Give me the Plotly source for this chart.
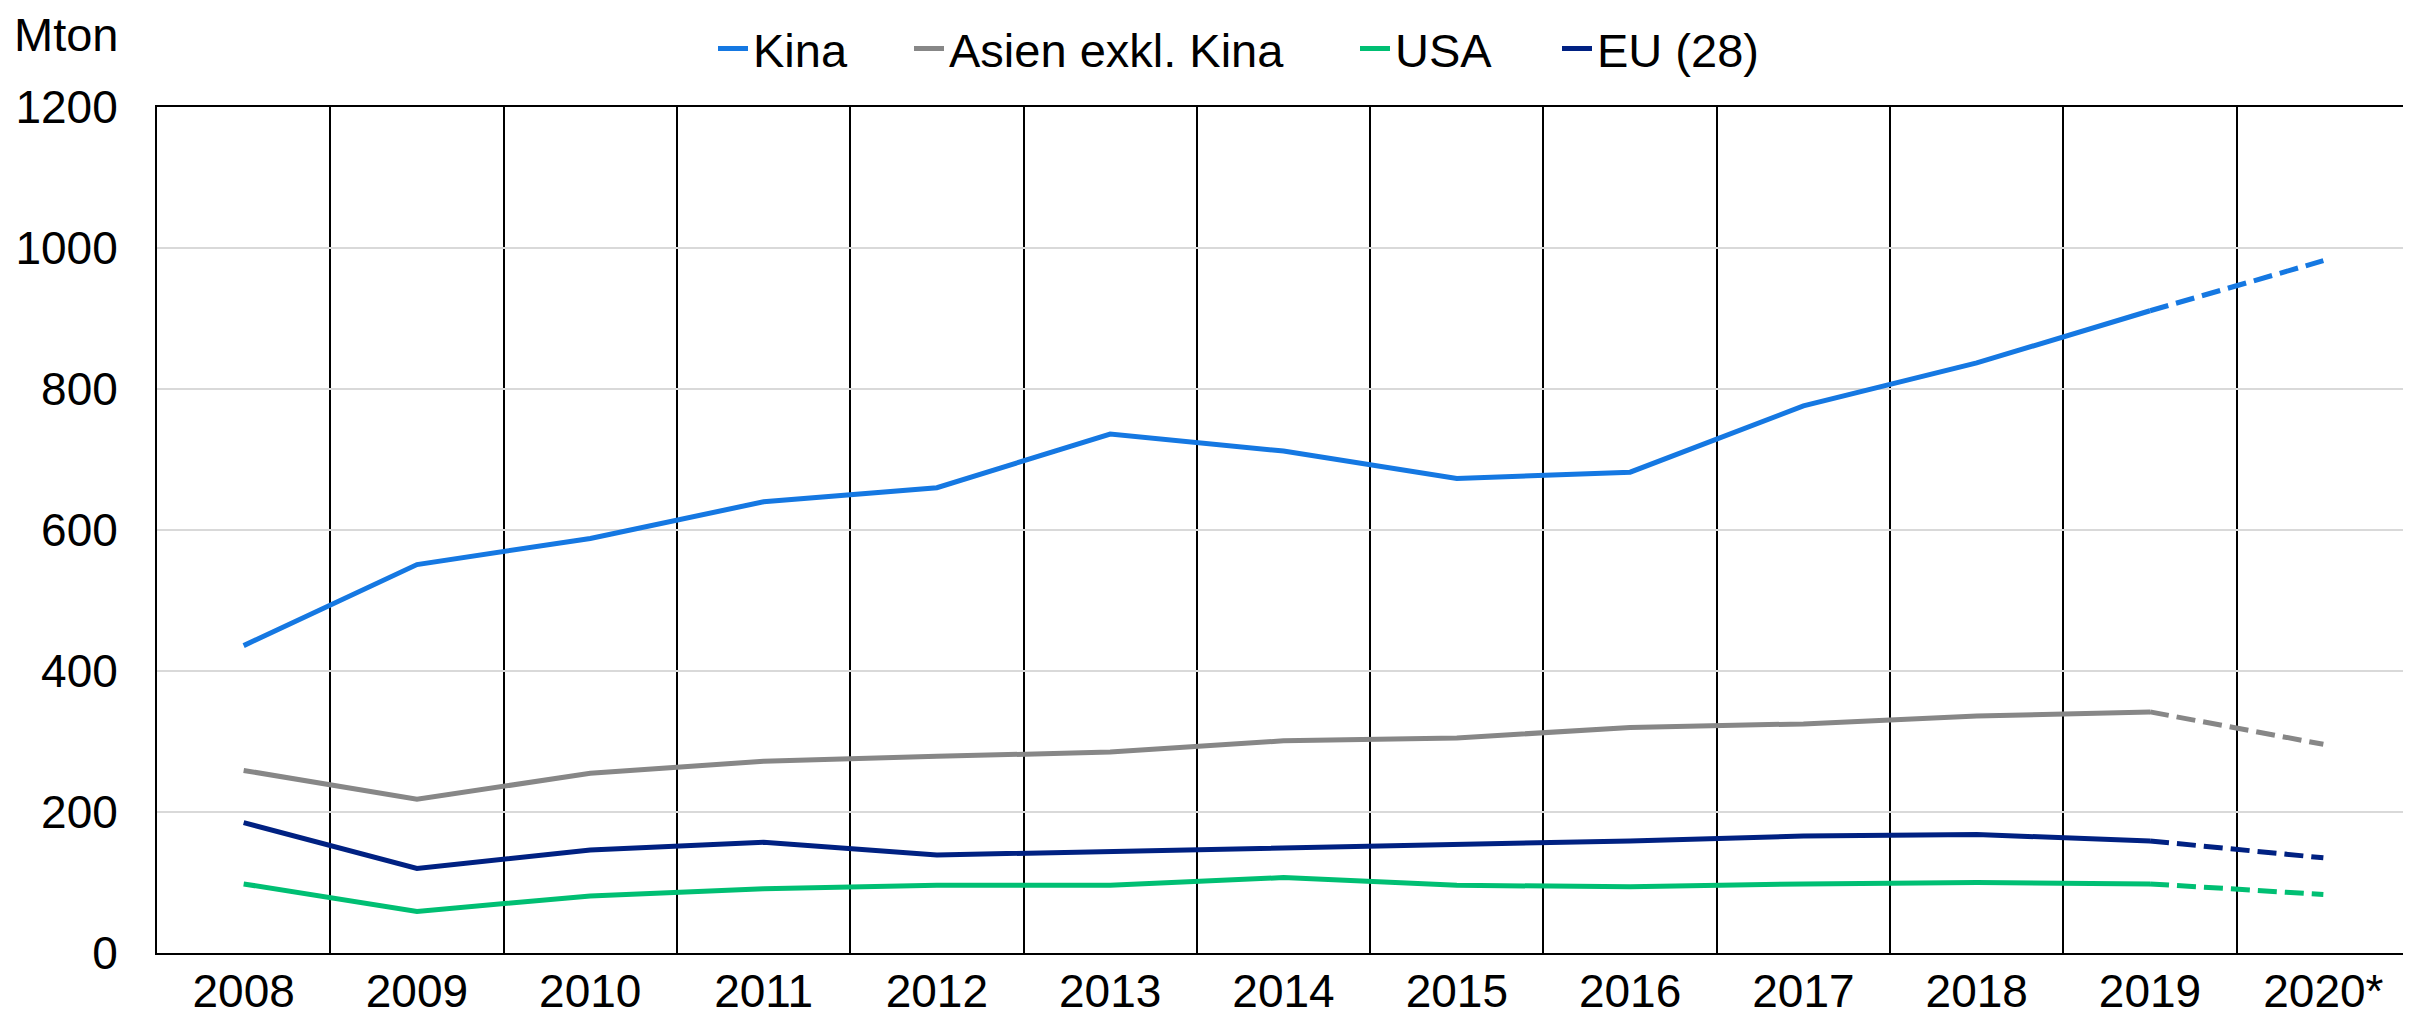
import plotly.graph_objects as go

years = ["2008", "2009", "2010", "2011", "2012", "2013", "2014", "2015", "2016", "2017", "2018", "2019", "2020*"]
kina = [436, 551, 588, 640, 660, 736, 712, 673, 682, 776, 837, 911, 982]
asien = [259, 218, 255, 272, 279, 285, 301, 305, 320, 325, 336, 342, 296]
usa = [98, 59, 81, 91, 96, 96, 107, 96, 94, 98, 100, 98, 83]
eu = [185, 120, 146, 157, 139, 144, 150, 155, 159, 166, 168, 159, 135]

series = [
    ("Kina", kina, "#1578E2"),
    ("Asien exkl. Kina", asien, "#878787"),
    ("USA", usa, "#00BF73"),
    ("EU (28)", eu, "#002182"),
]
legend_ids = ["legend", "legend2", "legend3", "legend4"]
legend_text_px = [753, 949, 1395, 1597]

FONT = "Liberation Sans, Arial, sans-serif"
OFF = 8  # default page body margin
W, H = 2411 - OFF, 1019 - OFF
fig = go.Figure()
for (name, vals, col), lid in zip(series, legend_ids):
    fig.add_trace(go.Scatter(x=years[:-1], y=vals[:-1], mode="lines", name=name, legend=lid,
                             line=dict(color=col, width=5)))
for name, vals, col in series:
    fig.add_trace(go.Scatter(x=years[-2:], y=vals[-2:], mode="lines", name=name,
                             showlegend=False, line=dict(color=col, width=5, dash="19px,8px")))

legends = {}
for lid, px in zip(legend_ids, legend_text_px):
    legends[lid] = dict(orientation="h", xref="container", x=(px - OFF - 40) / W, xanchor="left",
                        yref="container", y=1 - (49 - OFF) / H, yanchor="middle",
                        font=dict(size=47), bgcolor="rgba(0,0,0,0)")

L, T = 157 - OFF, 107 - OFF
PW, PH = 2410 - 157, 953 - 107
fig.update_layout(
    width=W, height=H,
    margin=dict(l=L, r=W - L - PW, t=T, b=H - T - PH, autoexpand=False),
    paper_bgcolor="white", plot_bgcolor="white",
    font=dict(family=FONT, size=47, color="black"),
    showlegend=True,
    annotations=[dict(text="Mton", xref="paper", yref="paper", x=(12 - 157) / PW, y=1 + (107 - 34) / PH,
                      xanchor="left", yanchor="middle", showarrow=False, font=dict(size=47))],
    **legends,
)
fig.update_xaxes(type="category", categoryorder="array", categoryarray=years,
                 tickson="boundaries", showgrid=True, gridcolor="black", gridwidth=1.5,
                 showline=True, linecolor="black", linewidth=2, mirror=True, automargin=False,
                 tickfont=dict(size=46),
                 ticks="", ticklabelstandoff=-3, range=[-0.5, 12.5])
fig.update_yaxes(range=[0, 1200], tickvals=[0, 200, 400, 600, 800, 1000, 1200],
                 showgrid=True, gridcolor="#D9D9D9", gridwidth=1.5, automargin=False,
                 showline=True, linecolor="black", linewidth=2, mirror=True,
                 tickfont=dict(size=46),
                 ticks="", ticklabelstandoff=28, zeroline=False)
fig.write_html("out.html")
